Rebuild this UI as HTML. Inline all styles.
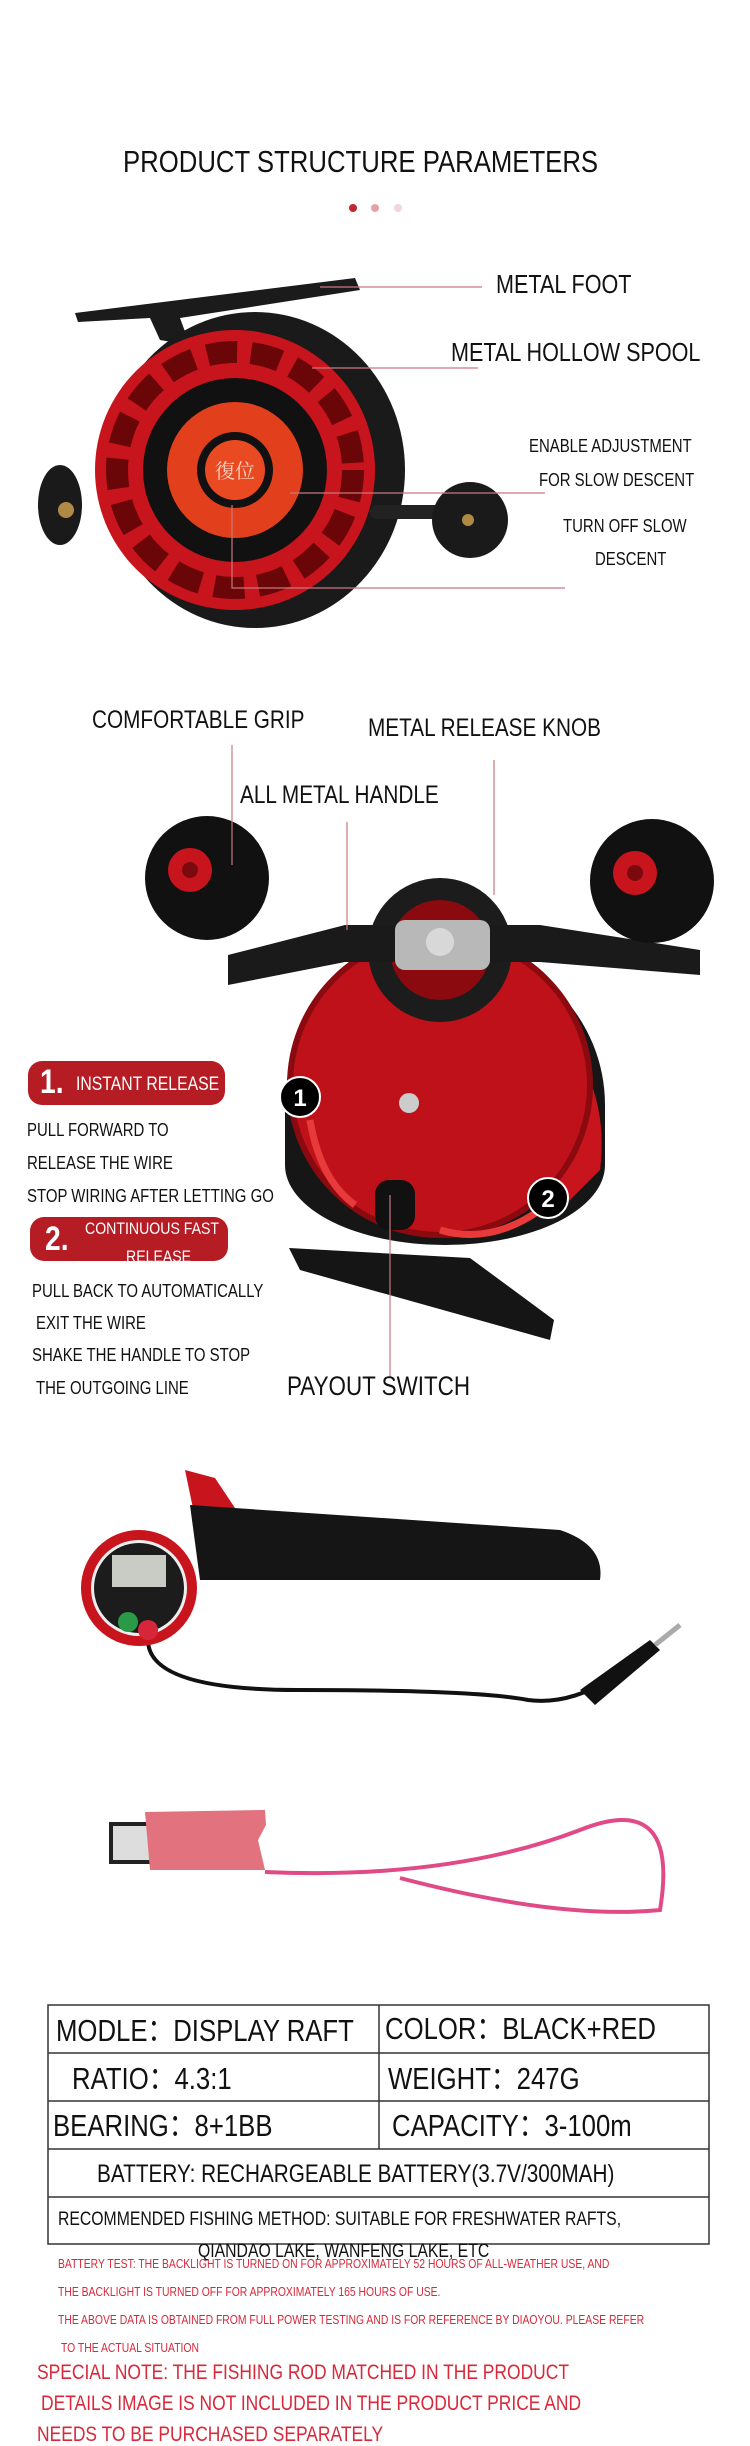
<!DOCTYPE html>
<html><head><meta charset="utf-8"><style>
html,body{margin:0;padding:0;background:#fff;}
body{width:750px;height:2439px;position:relative;overflow:hidden;font-family:"Liberation Sans",sans-serif;color:#111;}
.t{position:absolute;white-space:nowrap;line-height:1;transform:scaleX(0.83);transform-origin:0 0;}
svg{position:absolute;left:0;top:0;}
.red{color:#d8283a;}
</style></head><body>
<svg width="750" height="2439" viewBox="0 0 750 2439">
<circle cx="353" cy="208" r="4" fill="#c3262d"/><circle cx="375" cy="208" r="4" fill="#e3a3a6"/><circle cx="398" cy="208" r="4" fill="#f2d6d8"/>
<polygon points="75,313 355,278 360,290 180,318 190,345 160,340 150,318 78,322" fill="#1b1b1b"/>
<ellipse cx="255" cy="470" rx="150" ry="158" fill="#1a1a1a"/>
<ellipse cx="60" cy="505" rx="22" ry="40" fill="#1a1a1a"/>
<ellipse cx="66" cy="510" rx="8" ry="8" fill="#b08a45"/>
<rect x="370" y="505" width="110" height="14" rx="7" fill="#222"/>
<circle cx="470" cy="520" r="38" fill="#1a1a1a"/>
<circle cx="468" cy="520" r="6" fill="#b08a45"/>
<circle cx="235" cy="470" r="140" fill="#c8141c"/>
<circle cx="235" cy="470" r="118" fill="none" stroke="#6a0508" stroke-width="22" stroke-dasharray="30 14"/>
<circle cx="235" cy="470" r="92" fill="#111"/>
<circle cx="235" cy="470" r="68" fill="#e2401c"/>
<circle cx="235" cy="470" r="38" fill="#111"/>
<circle cx="235" cy="470" r="30" fill="#ea4a22"/>
<text x="235" y="478" font-family="Noto Serif CJK SC,serif" font-size="20" fill="#f4d2c0" text-anchor="middle">復位</text>
<g stroke="#c9787c" stroke-width="1.2" fill="none">
<line x1="320" y1="287" x2="482" y2="287"/>
<line x1="312" y1="368" x2="478" y2="368"/>
<polyline points="290,493 545,493"/>
<polyline points="232,505 232,588 565,588"/>
</g>
<path d="M285 1105 a160 160 0 1 1 320 0 l0 60 a160 80 0 0 1 -320 0z" fill="#161616"/>
<path d="M560 1030 q50 60 40 140 l-40 40 q-20 -90 0 -180z" fill="#c8141c"/>
<circle cx="440" cy="1085" r="150" fill="#bf1119"/>
<circle cx="440" cy="1085" r="150" fill="none" stroke="#8a0a10" stroke-width="6"/>
<circle cx="440" cy="950" r="72" fill="#1c1c1c"/>
<circle cx="440" cy="950" r="50" fill="#8a0a10"/>
<polygon points="289,1248 470,1258 554,1320 550,1340 300,1270" fill="#151515"/>
<path d="M228 955 L345 925 L540 925 L700 950 L700 975 L540 962 L345 962 L228 985z" fill="#1a1a1a"/>
<rect x="395" y="920" width="95" height="50" rx="10" fill="#b8b8b8"/>
<circle cx="440" cy="942" r="14" fill="#d8d8d8"/>
<circle cx="207" cy="878" r="62" fill="#111"/>
<circle cx="190" cy="870" r="22" fill="#c8141c"/><circle cx="190" cy="870" r="8" fill="#7a0a0e"/>
<circle cx="652" cy="881" r="62" fill="#111"/>
<circle cx="635" cy="873" r="22" fill="#c8141c"/><circle cx="635" cy="873" r="8" fill="#7a0a0e"/>
<rect x="375" y="1180" width="40" height="50" rx="14" fill="#111"/>
<circle cx="409" cy="1103" r="10" fill="#ccc"/>
<path d="M310 1120 q10 60 45 85" stroke="#e83a3a" stroke-width="7" fill="none"/>
<path d="M440 1230 q50 15 100 -20" stroke="#e83a3a" stroke-width="7" fill="none"/>
<circle cx="300" cy="1097" r="20" fill="#000" stroke="#fff" stroke-width="2"/>
<text x="300" y="1106" font-family="Liberation Sans" font-weight="bold" font-size="24" fill="#fff" text-anchor="middle">1</text>
<circle cx="548" cy="1198" r="20" fill="#000" stroke="#fff" stroke-width="2"/>
<text x="548" y="1207" font-family="Liberation Sans" font-weight="bold" font-size="24" fill="#fff" text-anchor="middle">2</text>
<g stroke="#c9787c" stroke-width="1.2">
<line x1="232" y1="745" x2="232" y2="865"/>
<line x1="347" y1="822" x2="347" y2="930"/>
<line x1="494" y1="760" x2="494" y2="895"/>
<line x1="390" y1="1195" x2="390" y2="1378"/>
</g>
<rect x="28" y="1061" width="197" height="44" rx="14" fill="#b51c24"/>
<rect x="30" y="1217" width="198" height="44" rx="14" fill="#b51c24"/>
<path d="M185 1470 l30 8 l20 30 l-40 10z" fill="#c8141c"/>
<path d="M190 1505 L560 1530 Q605 1545 600 1580 L200 1580z" fill="#151515"/>
<path d="M148 1640 q0 50 150 50 q180 0 230 10 q40 5 80 -20" stroke="#111" stroke-width="4" fill="none"/>
<polygon points="580,1690 650,1640 660,1650 595,1705" fill="#111"/>
<line x1="655" y1="1645" x2="680" y2="1625" stroke="#aaa" stroke-width="5"/>
<circle cx="139" cy="1588" r="58" fill="#c8141c"/>
<circle cx="139" cy="1588" r="48" fill="#eee"/>
<circle cx="139" cy="1588" r="45" fill="#1c1c1c"/>
<rect x="112" y="1555" width="54" height="32" fill="#c9ccc5"/>
<circle cx="128" cy="1622" r="10" fill="#2b9a48"/><circle cx="148" cy="1630" r="10" fill="#d6263a"/>
<rect x="109" y="1822" width="47" height="42" fill="#222"/>
<rect x="113" y="1826" width="43" height="34" fill="#ddd"/>
<path d="M145 1812 L265 1810 L266 1825 L258 1840 L265 1870 L150 1870z" fill="#e2727e"/>
<path d="M265 1872 Q450 1880 580 1830 Q680 1790 660 1910 Q560 1920 400 1878" stroke="#e04a86" stroke-width="4" fill="none"/>
<g stroke="#333" stroke-width="1.5" fill="none">
<rect x="48" y="2005" width="661" height="239"/>
<line x1="48" y1="2053" x2="709" y2="2053"/>
<line x1="48" y1="2101" x2="709" y2="2101"/>
<line x1="48" y1="2149" x2="709" y2="2149"/>
<line x1="48" y1="2197" x2="709" y2="2197"/>
<line x1="379" y1="2005" x2="379" y2="2149"/>
</g>
</svg>

<div class="t" style="left:123px;top:146px;font-size:31px;">PRODUCT STRUCTURE PARAMETERS</div>
<div class="t" style="left:496px;top:271px;font-size:26px;">METAL FOOT</div>
<div class="t" style="left:451px;top:339px;font-size:26px;">METAL HOLLOW SPOOL</div>
<div class="t" style="left:529px;top:437px;font-size:18px;">ENABLE ADJUSTMENT</div>
<div class="t" style="left:539px;top:471px;font-size:18px;">FOR SLOW DESCENT</div>
<div class="t" style="left:563px;top:517px;font-size:18px;">TURN OFF SLOW</div>
<div class="t" style="left:595px;top:550px;font-size:18px;">DESCENT</div>

<div class="t" style="left:92px;top:708px;font-size:25px;">COMFORTABLE GRIP</div>
<div class="t" style="left:368px;top:716px;font-size:25px;">METAL RELEASE KNOB</div>
<div class="t" style="left:240px;top:783px;font-size:25px;">ALL METAL HANDLE</div>

<div class="t" style="left:40px;top:1065px;font-size:34px;color:#fff;font-weight:bold;">1.</div>
<div class="t" style="left:76px;top:1075px;font-size:19px;color:#fff;">INSTANT RELEASE</div>
<div class="t" style="left:27px;top:1121px;font-size:18px;">PULL FORWARD TO</div>
<div class="t" style="left:27px;top:1154px;font-size:18px;">RELEASE THE WIRE</div>
<div class="t" style="left:27px;top:1187px;font-size:18px;">STOP WIRING AFTER LETTING GO</div>
<div class="t" style="left:45px;top:1222px;font-size:34px;color:#fff;font-weight:bold;">2.</div>
<div class="t" style="left:85px;top:1220px;font-size:17px;color:#fff;">CONTINUOUS FAST</div>
<div class="t" style="left:126px;top:1248px;font-size:17px;color:#fff;">RELEASE</div>
<div class="t" style="left:32px;top:1282px;font-size:18px;">PULL BACK TO AUTOMATICALLY</div>
<div class="t" style="left:36px;top:1314px;font-size:18px;">EXIT THE WIRE</div>
<div class="t" style="left:32px;top:1346px;font-size:18px;">SHAKE THE HANDLE TO STOP</div>
<div class="t" style="left:36px;top:1379px;font-size:18px;">THE OUTGOING LINE</div>
<div class="t" style="left:287px;top:1373px;font-size:27px;">PAYOUT SWITCH</div>

<div class="t" style="left:56px;top:2015px;font-size:31px;">MODLE：DISPLAY RAFT</div>
<div class="t" style="left:385px;top:2013px;font-size:31px;">COLOR：BLACK+RED</div>
<div class="t" style="left:72px;top:2063px;font-size:31px;">RATIO：4.3:1</div>
<div class="t" style="left:388px;top:2063px;font-size:31px;">WEIGHT：247G</div>
<div class="t" style="left:53px;top:2110px;font-size:31px;">BEARING：8+1BB</div>
<div class="t" style="left:392px;top:2110px;font-size:31px;">CAPACITY：3-100m</div>
<div class="t" style="left:97px;top:2162px;font-size:25px;">BATTERY: RECHARGEABLE BATTERY(3.7V/300MAH)</div>
<div class="t" style="left:58px;top:2210px;font-size:19px;">RECOMMENDED FISHING METHOD: SUITABLE FOR FRESHWATER RAFTS,</div>
<div class="t" style="left:198px;top:2242px;font-size:19px;">QIANDAO LAKE, WANFENG LAKE, ETC</div>
<div class="t red" style="left:58px;top:2258px;font-size:12.5px;">BATTERY TEST: THE BACKLIGHT IS TURNED ON FOR APPROXIMATELY 52 HOURS OF ALL-WEATHER USE, AND</div>
<div class="t red" style="left:58px;top:2286px;font-size:12.5px;">THE BACKLIGHT IS TURNED OFF FOR APPROXIMATELY 165 HOURS OF USE.</div>
<div class="t red" style="left:58px;top:2314px;font-size:12.5px;">THE ABOVE DATA IS OBTAINED FROM FULL POWER TESTING AND IS FOR REFERENCE BY DIAOYOU. PLEASE REFER</div>
<div class="t red" style="left:61px;top:2342px;font-size:12.5px;">TO THE ACTUAL SITUATION</div>
<div class="t red" style="left:37px;top:2362px;font-size:21px;">SPECIAL NOTE: THE FISHING ROD MATCHED IN THE PRODUCT</div>
<div class="t red" style="left:41px;top:2393px;font-size:21px;">DETAILS IMAGE IS NOT INCLUDED IN THE PRODUCT PRICE AND</div>
<div class="t red" style="left:37px;top:2424px;font-size:21px;">NEEDS TO BE PURCHASED SEPARATELY</div>
</body></html>
